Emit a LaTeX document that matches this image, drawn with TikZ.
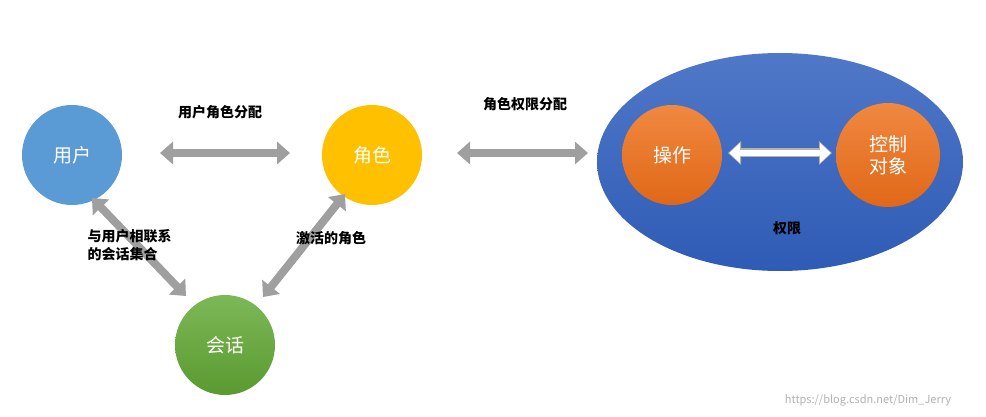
\documentclass[tikz,border=0pt]{standalone}
\usepackage{fontspec}
\setmainfont{Noto Sans CJK SC}
\usetikzlibrary{arrows.meta,shapes.geometric}
\begin{document}
\begin{tikzpicture}[x=1pt,y=-1pt,
  ball/.style={circle,minimum size=#1,inner sep=0pt,text=white,font=\fontsize{19}{22}\selectfont},
  garrow/.style={draw=gray!75,line width=8pt,{Triangle[width=22pt,length=13pt]}-{Triangle[width=22pt,length=13pt]},shorten <=0pt},
  lbl/.style={font=\fontsize{14}{18}\selectfont\bfseries,align=left}]
\useasboundingbox (0,0) rectangle (986,417);
\fill[white] (0,0) rectangle (986,417);
\definecolor{ublue}{HTML}{5B9BD5}
\definecolor{gold}{HTML}{FFC000}
\definecolor{ellA}{HTML}{5078C8}
\definecolor{ellB}{HTML}{2E5BB5}
\definecolor{orA}{HTML}{F08840}
\definecolor{orB}{HTML}{E06818}
\definecolor{grA}{HTML}{7DB857}
\definecolor{grB}{HTML}{5A9A30}
% ellipse
\node[ellipse,minimum width=366pt,minimum height=218pt,top color=ellA,bottom color=ellB,draw=none] (perm) at (780,162) {};
\node[lbl] (permlbl) at (787,228) {权限};
\node[ball=100pt,fill=ublue] (user) at (72,155) {用户};
\node[ball=100pt,fill=gold] (role) at (372,155) {角色};
\node[ball=100pt,top color=grA,bottom color=grB] (sess) at (225,345) {会话};
\node[ball=100pt,top color=orA,bottom color=orB] (op) at (672,155) {操作};
\node[ball=104pt,top color=orA,bottom color=orB,align=center] (obj) at (888,155) {控制\\对象};
% arrows
\coordinate (a1) at (160,153); \coordinate (a2) at (290,153);
\draw[garrow] (a1) -- (a2);
\coordinate (b1) at (457,153); \coordinate (b2) at (588,153);
\draw[garrow] (b1) -- (b2);
\coordinate (c1) at (92,198); \coordinate (c2) at (186,296);
\draw[garrow] (c1) -- (c2);
\coordinate (d1) at (263,297); \coordinate (d2) at (345,194);
\draw[garrow] (d1) -- (d2);
\coordinate (e1) at (728,153); \coordinate (e2) at (832,153);
\draw[draw=gray!60,line width=9pt,{Triangle[width=23pt,length=13pt]}-{Triangle[width=23pt,length=13pt]}] (e1) -- (e2);
\draw[draw=white,line width=6.5pt,{Triangle[width=19pt,length=10.5pt]}-{Triangle[width=19pt,length=10.5pt]},shorten <=1.3pt,shorten >=1.3pt] (e1) -- (e2);
% labels
\node[lbl] (l1) at (220,112) {用户角色分配};
\node[lbl] (l2) at (525,104) {角色权限分配};
\node[lbl,anchor=west] (l3) at (84,245) {与用户相联系\\的会话集合};
\node[lbl] (l4) at (331,238) {激活的角色};
\node[font=\fontsize{11}{13}\selectfont,text=gray!60] (wm) at (868,400) {https://blog.csdn.net/Dim\_Jerry};
\end{tikzpicture}
\end{document}
